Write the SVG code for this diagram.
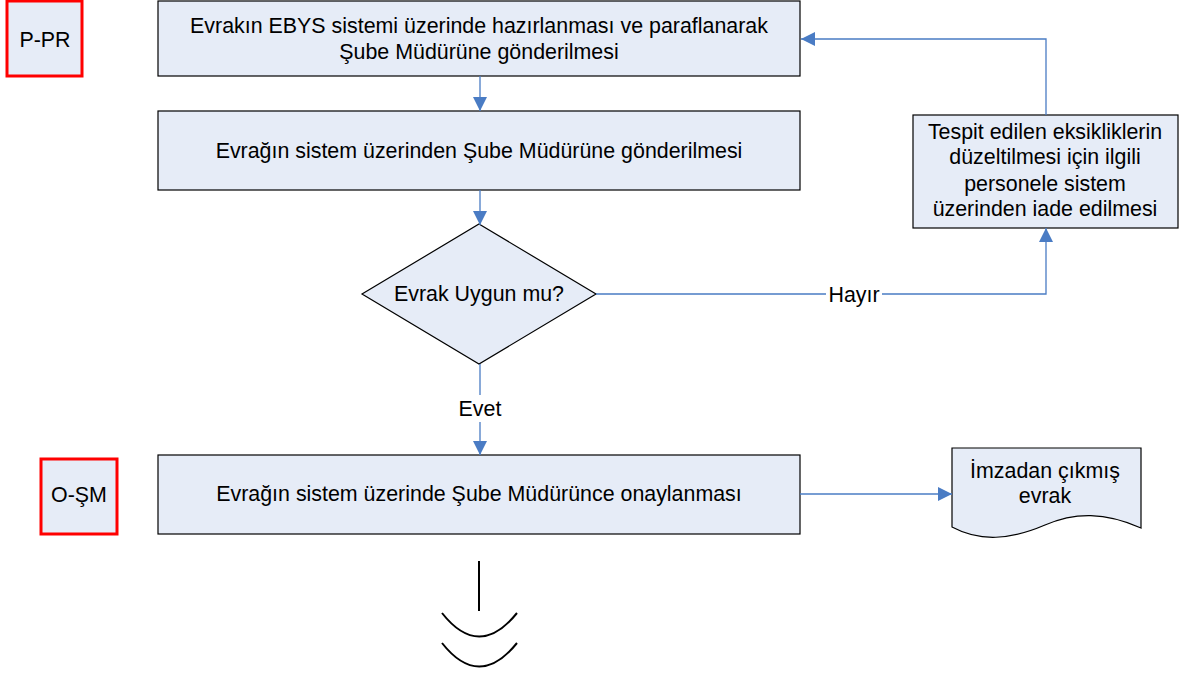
<svg xmlns="http://www.w3.org/2000/svg" width="1182" height="674" viewBox="0 0 1182 674">
<style>
.box{fill:#e6ecf7;stroke:#000;stroke-width:1.2}
.lab{fill:#e6ecf7;stroke:#ff0000;stroke-width:3}
.t{font-family:"Liberation Sans",Arial,sans-serif;font-size:21.4px;fill:#000;text-anchor:middle}
.c{fill:none;stroke:#4a7cc4;stroke-width:1.3}
.k{fill:none;stroke:#000;stroke-width:2}
</style>
<defs>
<marker id="ah" markerWidth="16" markerHeight="16" refX="14" refY="8" orient="auto" markerUnits="userSpaceOnUse">
<path d="M0,1 L14,8 L0,15 Z" fill="#4a7cc4"/>
</marker>
</defs>
<rect width="1182" height="674" fill="#fff"/>
<g id="lbl-ppr"><rect class="lab" x="7" y="1" width="75" height="75"/><text class="t" x="45" y="47">P-PR</text></g>
<g id="n1"><rect class="box" x="158" y="1" width="642" height="75"/><text class="t" x="479" y="33">Evrakın EBYS sistemi üzerinde hazırlanması ve paraflanarak</text><text class="t" x="479" y="59">Şube Müdürüne gönderilmesi</text></g>
<g id="n2"><rect class="box" x="158" y="111" width="642" height="79"/><text class="t" x="479" y="158">Evrağın sistem üzerinden Şube Müdürüne gönderilmesi</text></g>
<g id="d1"><path class="box" d="M479,224 L596,294 L479,364 L362,294 Z"/><text class="t" x="479" y="301">Evrak Uygun mu?</text></g>
<g id="n4"><rect class="box" x="913" y="115" width="265" height="113"/><text class="t" x="1045" y="139">Tespit edilen eksikliklerin</text><text class="t" x="1045" y="164">düzeltilmesi için ilgili</text><text class="t" x="1045" y="191">personele sistem</text><text class="t" x="1045" y="216">üzerinden iade edilmesi</text></g>
<g id="lbl-osm"><rect class="lab" x="41" y="459" width="76" height="75"/><text class="t" x="79" y="502">O-ŞM</text></g>
<g id="n3"><rect class="box" x="158" y="455" width="642" height="79"/><text class="t" x="479" y="501">Evrağın sistem üzerinde Şube Müdürünce onaylanması</text></g>
<g id="doc"><path class="box" d="M952,448 H1141 V528 C1105,512 1075,512 1045,525 C1010,540 980,542 952,527 Z"/><text class="t" x="1045" y="478">İmzadan çıkmış</text><text class="t" x="1045" y="503">evrak</text></g>
<g id="conn">
<path class="c" d="M480,76 V111" marker-end="url(#ah)"/>
<path class="c" d="M480,190 V225" marker-end="url(#ah)"/>
<path class="c" d="M596,294 H826 M882,294 H1046 V228" marker-end="url(#ah)"/>
<path class="c" d="M1046,115 V39 H801" marker-end="url(#ah)"/>
<path class="c" d="M480,364 V395 M480,422 V455" marker-end="url(#ah)"/>
<path class="c" d="M800,494 H952" marker-end="url(#ah)"/>
<text class="t" x="854" y="302">Hayır</text>
<text class="t" x="480" y="416">Evet</text>
</g>
<g id="offpage">
<path class="k" d="M479,561 V611"/>
<path class="k" d="M442,613 Q479,660 517,613"/>
<path class="k" d="M442,643 Q479,690 517,643"/>
</g>
</svg>
